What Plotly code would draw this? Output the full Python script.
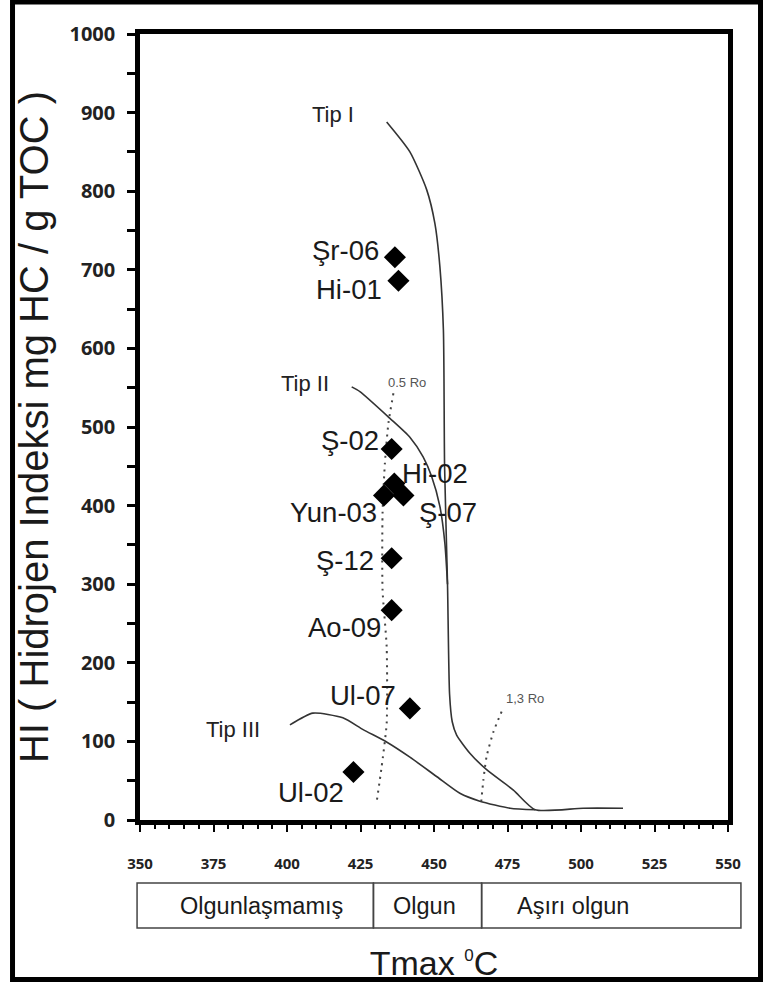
import plotly.graph_objects as go

# ---------------- data ----------------
sample_names = ["Şr-06", "Hi-01", "Ş-02", "Hi-02", "Yun-03", "Ş-07", "Ş-12", "Ao-09", "Ul-07", "Ul-02"]
sample_tmax = [436.7, 437.9, 435.6, 436.5, 433.0, 439.6, 435.6, 435.6, 441.8, 422.6]
sample_hi = [716, 686, 472, 428, 413, 413, 333, 267, 142, 61]

tip1_tmax = [433.9, 441.8, 447.5, 450.3, 452.0, 453.2, 453.6, 454.6, 455.3, 456.2, 457.7, 462.2, 467.9, 477.0, 484.4, 500.7, 514.3]
tip1_hi = [888, 850, 802, 759, 704, 623, 450, 300, 160, 125, 108, 85, 64, 38, 13, 15, 15]

tip2_tmax = [422.0, 424.8, 435.0, 441.8, 446.3, 449.2, 452.0, 453.7, 454.6]
tip2_hi = [551, 545, 511, 487, 462, 437, 399, 352, 300]

tip3_tmax = [401.0, 408.8, 419.0, 425.9, 434.0, 441.8, 451.0, 458.8, 465.6, 475.9, 484.4]
tip3_hi = [121, 136, 130, 115, 99, 80, 55, 34, 24, 15, 13]

ro05_tmax = [436.2, 434.5, 433.3, 432.5, 432.5, 433.9, 433.9, 432.2, 430.5]
ro05_hi = [543, 505, 454, 390, 293, 220, 123, 68, 23]

ro13_tmax = [473.0, 470.2, 467.9, 466.8, 465.9]
ro13_hi = [138, 112, 81, 51, 17]

zone_labels = ["Olgunlaşmamış", "Olgun", "Aşırı olgun"]
zone_bounds = [349.0, 429.4, 466.2, 554.4]

x_ticks = [350, 375, 400, 425, 450, 475, 500, 525, 550]
y_ticks = [0, 100, 200, 300, 400, 500, 600, 700, 800, 900, 1000]

# label placement (pixel offsets from the sample marker)
label_side = ["right", "right", "right", "left", "right", "left", "right", "right", "right", "right"]
label_dx = [-14, -14, -11, 6, -5, 14, -16, -9, -12, -7]
label_dy = [7, -9, 9, 10, -17, -17, -2, -17, 13, -20]

TXT = "Liberation Sans, Arial, sans-serif"
X0, X1 = 350, 550


def px(t):
    return (t - X0) / (X1 - X0)


fig = go.Figure()

curve_line = dict(color="#333333", width=1.6)
for tx, hy in [(tip1_tmax, tip1_hi), (tip2_tmax, tip2_hi), (tip3_tmax, tip3_hi)]:
    fig.add_trace(go.Scatter(x=tx, y=hy, mode="lines", line=dict(**curve_line, shape="spline", smoothing=0.6),
                             showlegend=False, hoverinfo="skip"))

for tx, hy in [(ro05_tmax, ro05_hi), (ro13_tmax, ro13_hi)]:
    fig.add_trace(go.Scatter(x=tx, y=hy, mode="lines",
                             line=dict(color="#444444", width=2, dash="2px,5px", shape="spline", smoothing=0.6),
                             showlegend=False, hoverinfo="skip"))

fig.add_trace(go.Scatter(x=sample_tmax, y=sample_hi, mode="markers",
                         marker=dict(symbol="diamond", size=17, color="black"),
                         text=sample_names, showlegend=False))

annotations = []
for n, t, h, side, dx, dy in zip(sample_names, sample_tmax, sample_hi, label_side, label_dx, label_dy):
    annotations.append(dict(x=t, y=h, xref="x", yref="y", text=n, showarrow=False,
                            xanchor=side, yanchor="middle", xshift=dx, yshift=dy,
                            font=dict(family=TXT, size=27.5, color="#1a1a1a")))

# curve type labels
for txt, t, h in [("Tip I", 415.6, 897), ("Tip II", 406.1, 555), ("Tip III", 381.6, 115)]:
    annotations.append(dict(x=t, y=h, xref="x", yref="y", text=txt, showarrow=False,
                            xanchor="center", yanchor="middle",
                            font=dict(family=TXT, size=22, color="#222222")))
for txt, t, h in [("0.5 Ro", 440.7, 556), ("1,3 Ro", 481.0, 155)]:
    annotations.append(dict(x=t, y=h, xref="x", yref="y", text=txt, showarrow=False,
                            xanchor="center", yanchor="middle",
                            font=dict(family=TXT, size=13, color="#555555")))

# maturity zone boxes below the axis
shapes = []
box_top, box_bot = -0.0802, -0.1374
for i, lab in enumerate(zone_labels):
    a, b = zone_bounds[i], zone_bounds[i + 1]
    shapes.append(dict(type="rect", xref="paper", yref="paper", x0=px(a), x1=px(b), y0=box_bot, y1=box_top,
                       line=dict(color="#444444", width=1.5), fillcolor="rgba(0,0,0,0)"))
zone_text_x = [(zone_bounds[0] + zone_bounds[1]) / 2 + 2, (zone_bounds[1] + zone_bounds[2]) / 2 - 1,
               (zone_bounds[2] + zone_bounds[3]) / 2 - 13]
for lab, t in zip(zone_labels, zone_text_x):
    annotations.append(dict(x=px(t), y=(box_top + box_bot) / 2, xref="paper", yref="paper", text=lab,
                            showarrow=False, xanchor="center", yanchor="middle",
                            font=dict(family=TXT, size=23.5, color="#1a1a1a")))

# outer frame
shapes.append(dict(type="rect", xref="paper", yref="paper", x0=-0.2168, x1=1.0553, y0=-0.2029, y1=1.0407,
                   line=dict(color="black", width=5), fillcolor="rgba(0,0,0,0)"))

fig.update_layout(
    width=763, height=985,
    margin=dict(l=140, r=35, t=34, b=165, autoexpand=False),
    paper_bgcolor="white", plot_bgcolor="white",
    annotations=annotations, shapes=shapes,
    showlegend=False,
)

fig.update_xaxes(
    range=[X0, X1], tickmode="array", tickvals=x_ticks, ticktext=[str(v) for v in x_ticks],
    ticks="outside", ticklen=7, tickwidth=2, tickcolor="black",
    minor=dict(dtick=5, ticks="outside", ticklen=4, tickwidth=1.5, tickcolor="black"),
    showline=True, linewidth=4.5, linecolor="black", mirror=True,
    showgrid=False, zeroline=False, automargin=False,
    tickfont=dict(family="Open Sans", size=15, color="#222222", weight="bold"),
    ticklabelstandoff=19,
    title=dict(text="Tmax <sup><span style='font-size:17px'>0</span></sup>C",
               font=dict(family=TXT, size=34, color="#1a1a1a"), standoff=81),
)
fig.update_yaxes(
    range=[0, 1000], tickmode="array", tickvals=y_ticks, ticktext=[str(v) for v in y_ticks],
    ticks="outside", ticklen=8, tickwidth=2.5, tickcolor="black",
    minor=dict(dtick=50, ticks="outside", ticklen=8, tickwidth=2.5, tickcolor="black"),
    showline=True, linewidth=4.5, linecolor="black", mirror=True,
    showgrid=False, zeroline=False, automargin=False,
    tickfont=dict(family="Open Sans", size=20, color="#222222", weight="bold"),
    ticklabelstandoff=8,
    title=dict(text="HI ( Hidrojen Indeksi mg HC / g TOC )", font=dict(family=TXT, size=40, color="#1a1a1a"),
               standoff=10),
)

fig.write_html("out.html", config={"displayModeBar": False},
               post_script="document.body.style.margin='0';document.body.style.overflow='hidden';")
